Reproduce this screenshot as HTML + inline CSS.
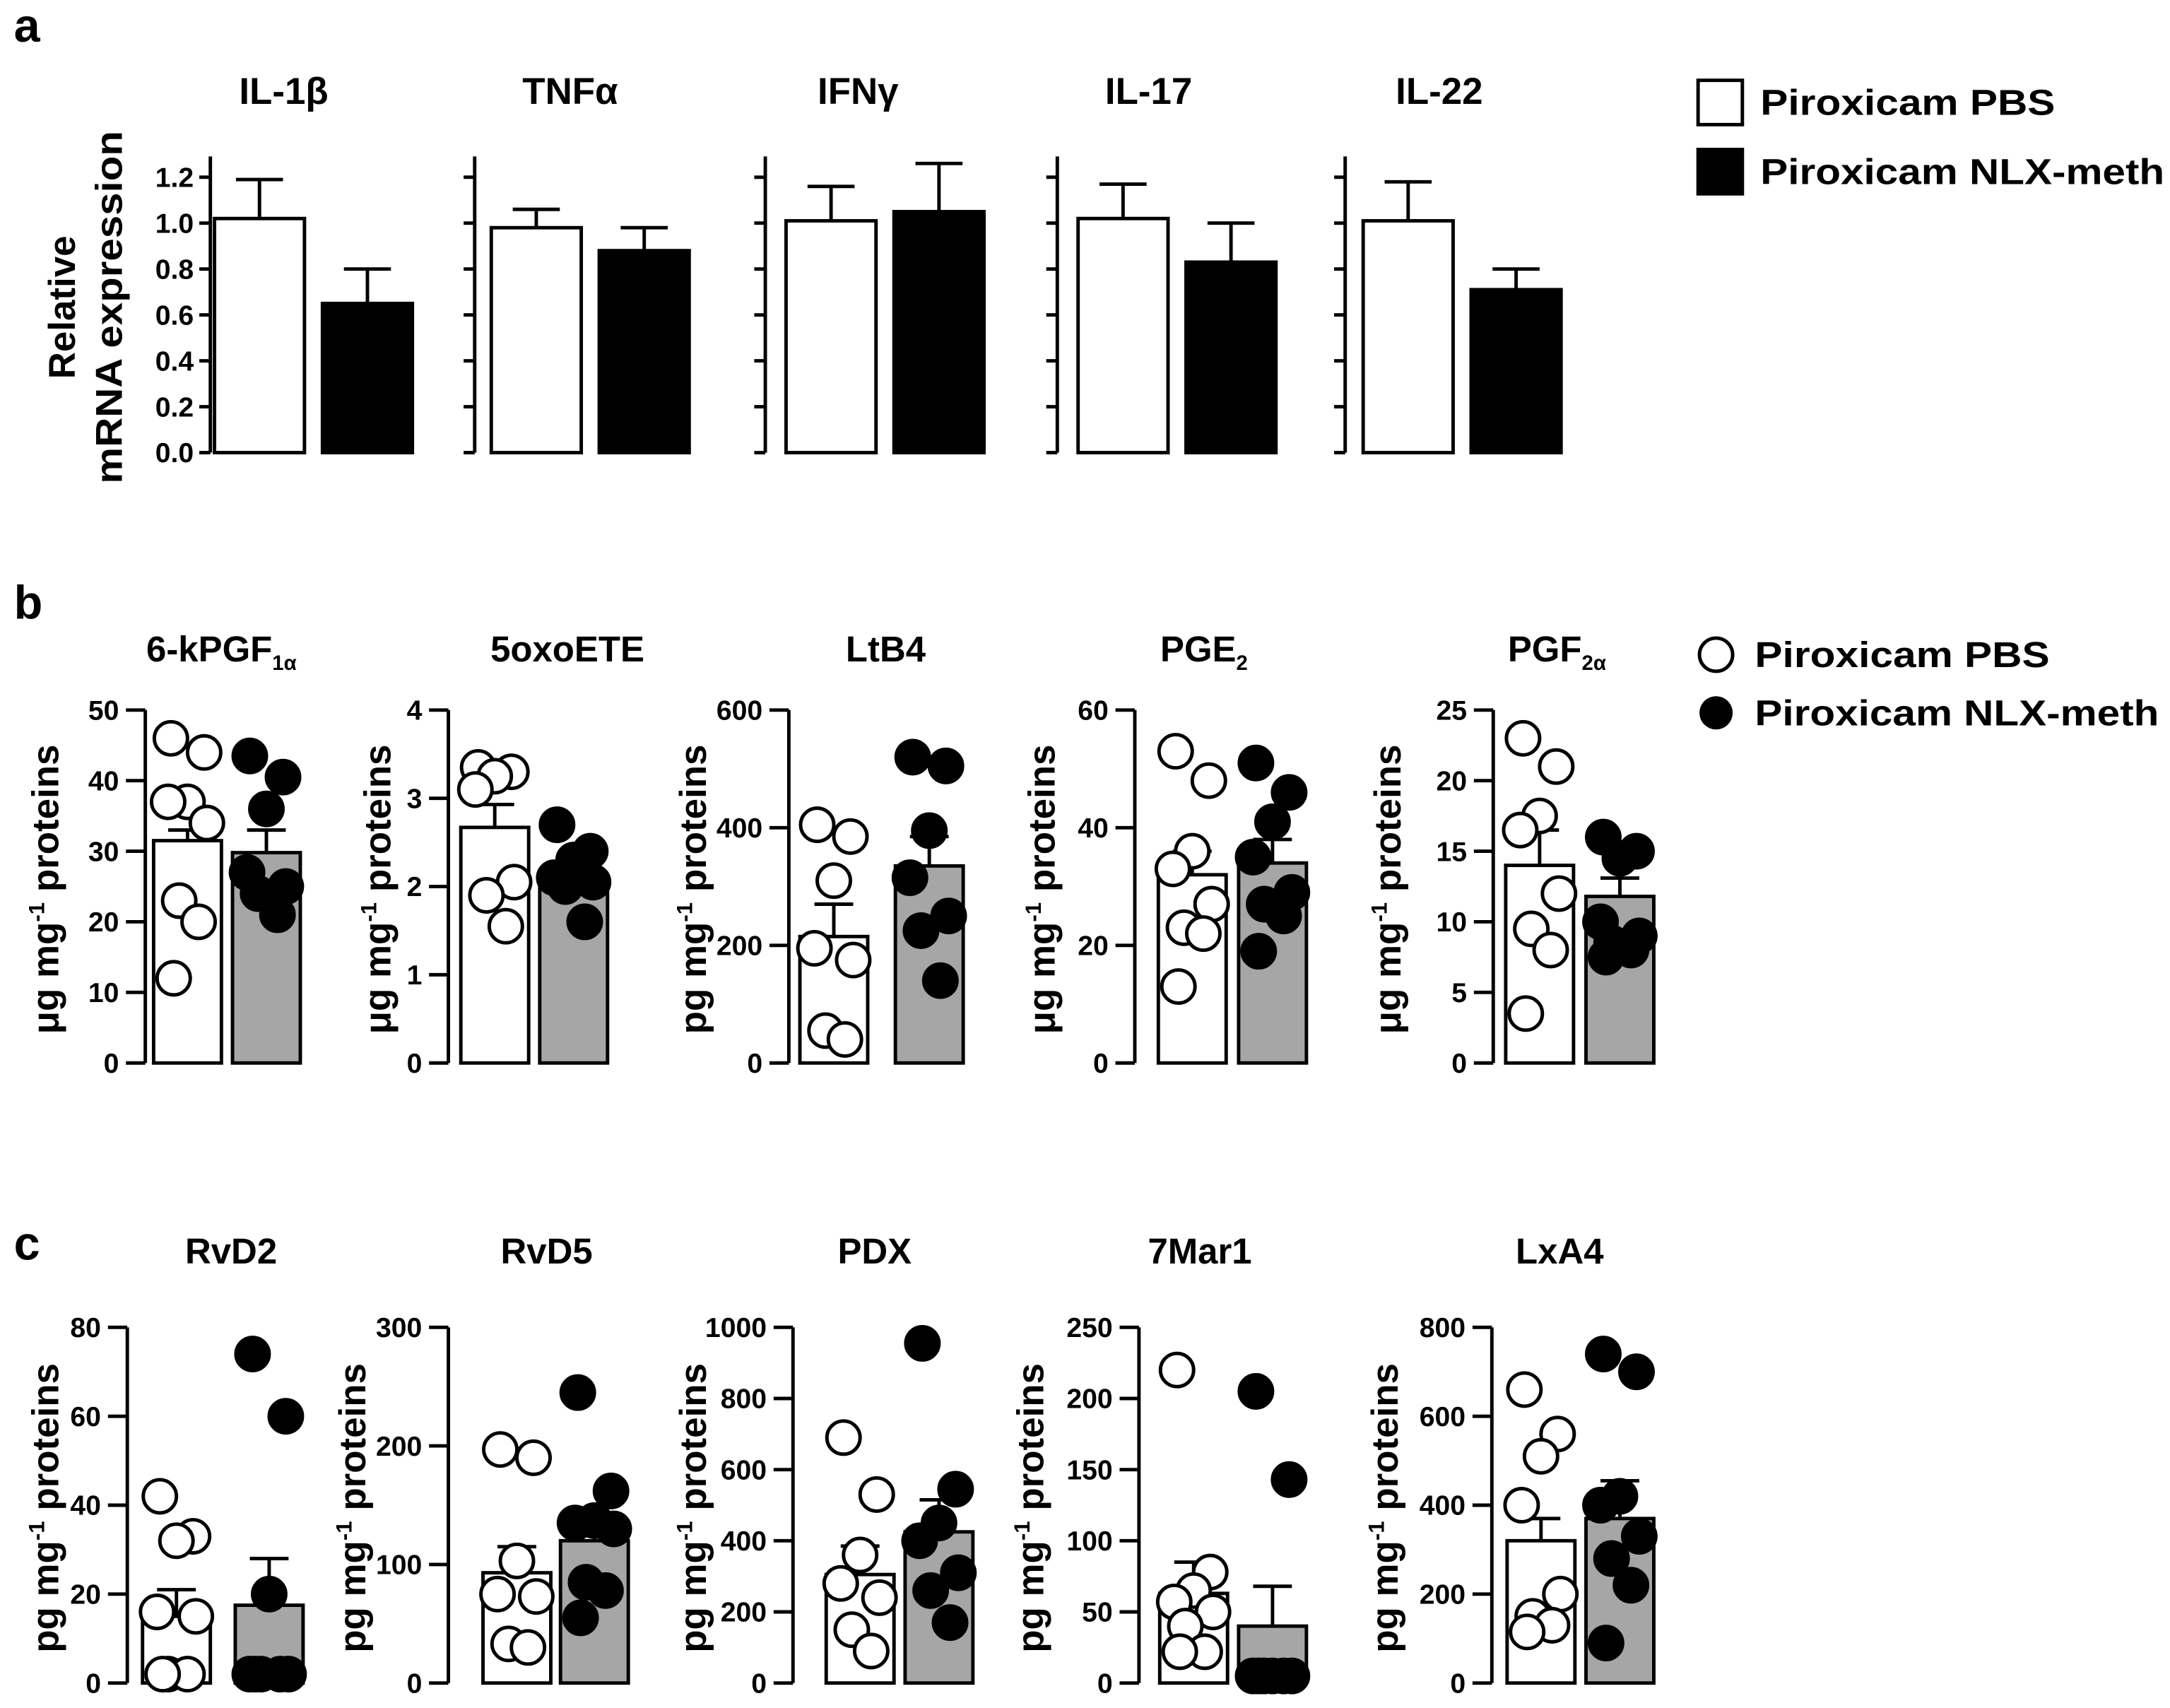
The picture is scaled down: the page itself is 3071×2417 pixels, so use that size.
<!DOCTYPE html>
<html><head><meta charset="utf-8"><style>
html,body{margin:0;padding:0;background:#fff}
svg{display:block}
text{font-family:"Liberation Sans",Arial,sans-serif;fill:#000}
</style></head><body>
<svg id="fig" width="3071" height="2417" viewBox="0 0 1568 1234" xmlns="http://www.w3.org/2000/svg">
<text x="10" y="30" font-size="34" font-weight="bold">a</text>
<text x="10" y="447" font-size="34" font-weight="bold">b</text>
<text x="10" y="910" font-size="34" font-weight="bold">c</text>
<g>
<rect x="1227" y="58" width="32" height="32" fill="#fff" stroke="#000" stroke-width="2.5"/>
<text x="1272" y="83" font-size="26" font-weight="bold" textLength="213" lengthAdjust="spacingAndGlyphs">Piroxicam PBS</text>
<rect x="1227" y="108" width="32" height="32" fill="#000" stroke="#000" stroke-width="2.5"/>
<text x="1272" y="133" font-size="26" font-weight="bold" textLength="292" lengthAdjust="spacingAndGlyphs">Piroxicam NLX-meth</text>
</g>
<g>
<circle cx="1240" cy="473" r="12" fill="#fff" stroke="#000" stroke-width="2.5"/>
<text x="1268" y="482" font-size="26" font-weight="bold" textLength="213" lengthAdjust="spacingAndGlyphs">Piroxicam PBS</text>
<circle cx="1240" cy="515" r="12" fill="#000"/>
<text x="1268" y="524" font-size="26" font-weight="bold" textLength="292" lengthAdjust="spacingAndGlyphs">Piroxicam NLX-meth</text>
</g>
<g transform="translate(54,222) rotate(-90)">
<text x="0" y="0" font-size="27" font-weight="bold" text-anchor="middle">Relative</text>
<text x="0" y="34" font-size="27" font-weight="bold" text-anchor="middle" textLength="255" lengthAdjust="spacingAndGlyphs">mRNA expression</text>
</g>
</svg>
<script>
// Panel a data
const aTitles = ["IL-1β","TNFα","IFNγ","IL-17","IL-22"];
const aPbsMean = [1.02,0.98,1.01,1.02,1.01];
const aPbsErr = [0.17,0.08,0.15,0.15,0.17];
const aNlxMean = [0.65,0.88,1.05,0.83,0.71];
const aNlxErr = [0.15,0.10,0.21,0.17,0.09];
const aTicks = ["0.0","0.2","0.4","0.6","0.8","1.0","1.2"];

// Panel b data
const bTitles = ["6-kPGF<tspan font-size='15' dy='6'>1α</tspan>","5oxoETE","LtB4","PGE<tspan font-size='15' dy='6'>2</tspan>","PGF<tspan font-size='15' dy='6'>2α</tspan>"];
const bUnits = ["μg","μg","pg","μg","μg"];
const bMax = [50,4,600,60,25];
const bStep = [10,1,200,20,5];
const bPbsMean = [31.5,2.67,215,32,14];
const bPbsErr = [1.5,0.26,55,4,2.5];
const bNlxMean = [29.8,2.1,335,34,11.8];
const bNlxErr = [3.2,0.12,50,4,1.3];
const bPbsPts = [[46,44,37,37,34,23,20,12],[3.35,3.3,3.25,3.1,2.05,1.9,1.55],[405,385,310,195,175,55,40],[53,48,36,33,27,23,22,13],[23,21,17.5,16.5,12,9.5,8,3.5]];
const bNlxPts = [[43.5,40.5,36,27,25,24,21],[2.7,2.4,2.3,2.1,2.05,2.0,1.6],[520,505,395,315,250,225,140],[51,46,41,35,29,27,25,19],[16,15,14.5,10,9,8.5,8,7.5]];

// Panel c data
const cTitles = ["RvD2","RvD5","PDX","7Mar1","LxA4"];
const cMax = [80,300,1000,250,800];
const cStep = [20,100,200,50,200];
const cPbsMean = [15,93,305,63,320];
const cPbsErr = [6,22,80,22,50];
const cNlxMean = [17.5,120,425,40,370];
const cNlxErr = [10.5,15,90,28,85];
const cPbsPts = [[42,33,32,16,15,2,2,2],[197,190,103,75,73,33,30],[690,530,360,280,240,150,90],[220,78,65,57,50,40,22,22],[660,560,510,400,200,150,130,115]];
const cNlxPts = [[74,60,20,2,2,2,2,2],[245,162,137,135,130,85,78,55],[955,545,450,400,310,260,170],[205,143,5,5,5,5,5,5],[740,700,420,400,330,280,220,90]];

const NS="http://www.w3.org/2000/svg";
const svg=document.getElementById('fig');
function mk(tag,attrs,parent){const e=document.createElementNS(NS,tag);for(const k in attrs)e.setAttribute(k,attrs[k]);(parent||svg).appendChild(e);return e;}

// Panel a
const aAxisX=[152,343,553,764,972], aOff=[3,12,15,15,13], aTitleX=[205,412,620,830,1040];
const aY0=327, aYTop=128;
function ay(v){return aY0-(v/1.2)*(aY0-aYTop);}
for(let i=0;i<5;i++){
  const g=mk('g',{});
  
  
  const ax=aAxisX[i];
  const t=mk('text',{x:aTitleX[i],y:75,'font-size':27,'font-weight':'bold','text-anchor':'middle'},g);t.textContent=aTitles[i];
  
  
  mk('line',{x1:ax,x2:ax,y1:113,y2:aY0,stroke:'#000','stroke-width':2.5},g);
  aTicks.forEach((lab,k)=>{const v=parseFloat(lab);const y=ay(v);
    mk('line',{x1:ax-8,x2:ax,y1:y,y2:y,stroke:'#000','stroke-width':2.5},g);
    if(i===0){const tl=mk('text',{x:ax-12,y:y+7,'font-size':20,'font-weight':'bold','text-anchor':'end'},g);tl.textContent=lab;}
  });
  const bw=65;
  [[aPbsMean[i],aPbsErr[i],'#fff',aOff[i]],[aNlxMean[i],aNlxErr[i],'#000',aOff[i]+78]].forEach((d,j)=>{
    const x=ax+d[3], yt=ay(d[0]), ye=ay(d[0]+d[1]), cx=x+bw/2;
    mk('line',{x1:cx,x2:cx,y1:yt,y2:ye,stroke:'#000','stroke-width':2.5},g);
    mk('line',{x1:cx-17,x2:cx+17,y1:ye,y2:ye,stroke:'#000','stroke-width':2.5},g);
    const r=mk('rect',{x:x,y:yt,width:bw,height:aY0-yt,fill:d[2],stroke:'#000','stroke-width':2.5},g);
    
    
  });
}

const jit=[-12,12,0,-14,14,-6,8,-10,10];
function dotChart(prefix,i,ax,b1,b2,y0,yTop,max,step,unit,title,titleX,titleY,pm,pe,nm,ne,pp,np,ylabX){
  const g=mk('g',{});
  
  
  const sy=v=>y0-(v/max)*(y0-yTop);
  const t=mk('text',{x:titleX,y:titleY,'font-size':26,'font-weight':'bold','text-anchor':'middle'},g);t.innerHTML=title;
  
  
  const yl=mk('text',{transform:`translate(${ylabX},${(y0+yTop)/2+2}) rotate(-90)`,'font-size':27,'font-weight':'bold','text-anchor':'middle'},g);
  yl.innerHTML=unit+' mg<tspan font-size="16" dy="-10">-1</tspan><tspan dy="10"> proteins</tspan>';
  
  
  mk('line',{x1:ax,x2:ax,y1:yTop,y2:y0,stroke:'#000','stroke-width':2.5},g);
  for(let v=0;v<=max+1e-9;v+=step){const y=sy(v);
    mk('line',{x1:ax-14,x2:ax,y1:y,y2:y,stroke:'#000','stroke-width':2.5},g);
    const tl=mk('text',{x:ax-19,y:y+7,'font-size':20,'font-weight':'bold','text-anchor':'end'},g);tl.textContent=String(v);
  }
  [[b1,pm,pe,'#fff',pp,'#fff'],[b2,nm,ne,'#a6a6a6',np,'#000']].forEach((d,j)=>{
    const x=d[0], bw=49, yt=sy(d[1]), ye=sy(d[1]+d[2]), cx=x+bw/2;
    mk('line',{x1:cx,x2:cx,y1:yt,y2:ye,stroke:'#000','stroke-width':2.5},g);
    mk('line',{x1:cx-14,x2:cx+14,y1:ye,y2:ye,stroke:'#000','stroke-width':2.5},g);
    const r=mk('rect',{x:x,y:yt,width:bw,height:y0-yt,fill:d[3],stroke:'#000','stroke-width':2.5},g);
    
    
    d[4].forEach((v,k)=>{
      const c=mk('circle',{cx:cx+jit[k%jit.length],cy:sy(v),r:12,fill:d[5],stroke:'#000','stroke-width':2.5},g);
      
      
    });
  });
}
const bAxis=[105,324,570,820,1079], bB1=[111,333,578,837,1088], bB2=[168,390,647,895,1146], bTX=[160,410,640,870,1125], bYL=[42,282,510,762,1012];
for(let i=0;i<5;i++) dotChart('chart-b',i,bAxis[i],bB1[i],bB2[i],768,513,bMax[i],bStep[i],bUnits[i],bTitles[i],bTX[i],478,bPbsMean[i],bPbsErr[i],bNlxMean[i],bNlxErr[i],bPbsPts[i],bNlxPts[i],bYL[i]);
const cAxis=[92,324,573,823,1078], cB1=[103,349,597,838,1089], cB2=[170,405,654,895,1146], cTX=[167,395,632,867,1127], cYL=[42,264,510,754,1010];
for(let i=0;i<5;i++) dotChart('chart-c',i,cAxis[i],cB1[i],cB2[i],1216,959,cMax[i],cStep[i],'pg',cTitles[i],cTX[i],913,cPbsMean[i],cPbsErr[i],cNlxMean[i],cNlxErr[i],cPbsPts[i],cNlxPts[i],cYL[i]);
</script>
</body></html>
